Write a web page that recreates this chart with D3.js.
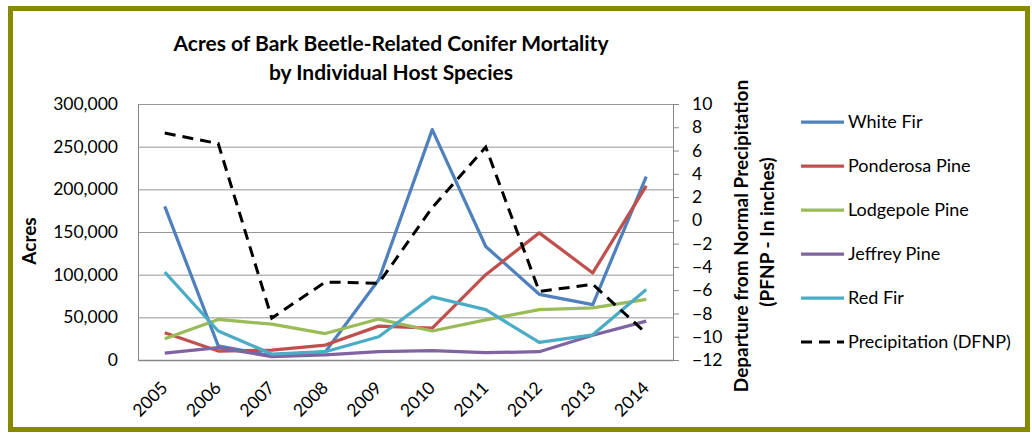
<!DOCTYPE html>
<html>
<head>
<meta charset="utf-8">
<script src="https://cdn.jsdelivr.net/npm/d3@7"></script>
<style>
  body { margin: 0; background: #fff; }
  text { font-family: Lato, "Open Sans", sans-serif; fill: #000; }
</style>
</head>
<body>
<svg id="chart"></svg>
<script>
var years = ["2005", "2006", "2007", "2008", "2009", "2010", "2011", "2012", "2013", "2014"];
var whiteFir = [180000, 16500, 5000, 9500, 94000, 270000, 133000, 77000, 65000, 215000];
var ponderosaPine = [32000, 10500, 11700, 17500, 39700, 37400, 100000, 149000, 102000, 204000];
var lodgepolePine = [25000, 47500, 42000, 31000, 48000, 34000, 47000, 59000, 61000, 71000];
var jeffreyPine = [8000, 14500, 4000, 6000, 9700, 11000, 8600, 9700, 29000, 45500];
var redFir = [103000, 34000, 7000, 9700, 27300, 74000, 59000, 20600, 29500, 82500];
var precipitation = [7.5, 6.6, -8.4, -5.3, -5.4, 1.1, 6.3, -6.1, -5.5, -9.7];

var seriesNames = ["White Fir", "Ponderosa Pine", "Lodgepole Pine", "Jeffrey Pine", "Red Fir", "Precipitation (DFNP)"];
var leftTicks = [0, 50000, 100000, 150000, 200000, 250000, 300000];
var rightTicks = [-12, -10, -8, -6, -4, -2, 0, 2, 4, 6, 8, 10];

var width = 1032,
    height = 433,
    plotLeft = 138,
    plotRight = 673,
    plotTop = 104,
    plotBottom = 360;

var color = d3.scaleOrdinal()
    .domain(seriesNames)
    .range(["#4f81bd", "#c0504d", "#9bbb59", "#8064a2", "#4bacc6", "#000000"]);

var svg = d3.select("#chart")
    .attr("width", width)
    .attr("height", height);

// olive frame
svg.append("rect")
    .attr("x", 10.5)
    .attr("y", 8.5)
    .attr("width", 1017)
    .attr("height", 421)
    .style("fill", "#fff")
    .style("stroke", "#878a00")
    .style("stroke-width", 5);

var x = d3.scaleBand()
    .domain(years)
    .range([plotLeft, plotRight]);

var yLeft = d3.scaleLinear()
    .domain([0, 300000])
    .range([plotBottom, plotTop]);

var yRight = d3.scaleLinear()
    .domain([-12, 10])
    .range([plotBottom, plotTop]);

function cx(d, i) { return x(years[i]) + x.bandwidth() / 2; }

// left axis + gridlines
var leftAxis = svg.append("g")
    .attr("transform", "translate(" + plotLeft + ",0)")
    .call(d3.axisLeft(yLeft)
        .tickValues(leftTicks)
        .tickSize(-(plotRight - plotLeft))
        .tickPadding(20)
        .tickFormat(d3.format(",")));
leftAxis.selectAll(".tick line").style("stroke", "#969696");
leftAxis.select(".domain").style("stroke", "#868686");
leftAxis.selectAll("text").style("font-size", "17.5px");

// right axis
var rightAxis = svg.append("g")
    .attr("transform", "translate(" + plotRight + ",0)")
    .call(d3.axisRight(yRight)
        .tickValues(rightTicks)
        .tickSize(6)
        .tickPadding(13)
        .tickFormat(d3.format("d")));
rightAxis.selectAll(".tick line").style("stroke", "#868686");
rightAxis.select(".domain").style("stroke", "#868686");
rightAxis.selectAll("text").style("font-size", "17.5px");

// bottom axis
var bottomAxis = svg.append("g")
    .attr("transform", "translate(0," + plotBottom + ")")
    .call(d3.axisBottom(x).tickSize(0).tickPadding(0));
bottomAxis.select(".domain").style("stroke", "#868686").style("stroke-width", 1.5);
bottomAxis.selectAll("text")
    .style("font-size", "17.5px")
    .attr("text-anchor", "end")
    .attr("y", 0)
    .attr("dy", 0)
    .attr("transform", "translate(4,29) rotate(-45)");

// series lines
var line = d3.line()
    .x(cx)
    .y(function(d) { return yLeft(d); });

var series = [whiteFir, ponderosaPine, lodgepolePine, jeffreyPine, redFir];
series.forEach(function(vals, k) {
    svg.append("path")
        .datum(vals)
        .attr("d", line)
        .style("fill", "none")
        .style("stroke", color(seriesNames[k]))
        .style("stroke-width", 3.25)
        .style("stroke-linejoin", "round");
});

var precipLine = d3.line()
    .x(cx)
    .y(function(d) { return yRight(d); });

svg.append("path")
    .datum(precipitation)
    .attr("d", precipLine)
    .style("fill", "none")
    .style("stroke", "#000")
    .style("stroke-width", 3)
    .style("stroke-dasharray", "11,7");

// titles
svg.append("text")
    .attr("x", 391)
    .attr("y", 51)
    .attr("text-anchor", "middle")
    .style("font-size", "21px")
    .style("font-weight", "bold")
    .text("Acres of Bark Beetle-Related Conifer Mortality");
svg.append("text")
    .attr("x", 391)
    .attr("y", 80)
    .attr("text-anchor", "middle")
    .style("font-size", "21px")
    .style("font-weight", "bold")
    .text("by Individual Host Species");

svg.append("text")
    .attr("transform", "translate(36,241) rotate(-90)")
    .attr("text-anchor", "middle")
    .style("font-size", "19px")
    .style("font-weight", "bold")
    .text("Acres");

svg.append("text")
    .attr("transform", "translate(748,236) rotate(-90)")
    .attr("text-anchor", "middle")
    .style("font-size", "19px")
    .style("font-weight", "bold")
    .text("Departure from Normal Precipitation");
svg.append("text")
    .attr("transform", "translate(774,232) rotate(-90)")
    .attr("text-anchor", "middle")
    .style("font-size", "19px")
    .style("font-weight", "bold")
    .text("(PFNP - In inches)");

// legend
var legend = svg.selectAll(".legend")
    .data(seriesNames)
    .enter().append("g")
    .attr("class", "legend")
    .attr("transform", function(d, i) { return "translate(801," + (122 + i * 44) + ")"; });

legend.append("line")
    .attr("x1", 0)
    .attr("x2", 43)
    .style("stroke", function(d) { return color(d); })
    .style("stroke-width", function(d, i) { return i == 5 ? 3 : 3.25; })
    .style("stroke-dasharray", function(d, i) { return i == 5 ? "11,7" : null; });

legend.append("text")
    .attr("x", 47)
    .attr("dy", "0.35em")
    .style("font-size", "18px")
    .text(function(d) { return d; });
</script>
</body>
</html>
